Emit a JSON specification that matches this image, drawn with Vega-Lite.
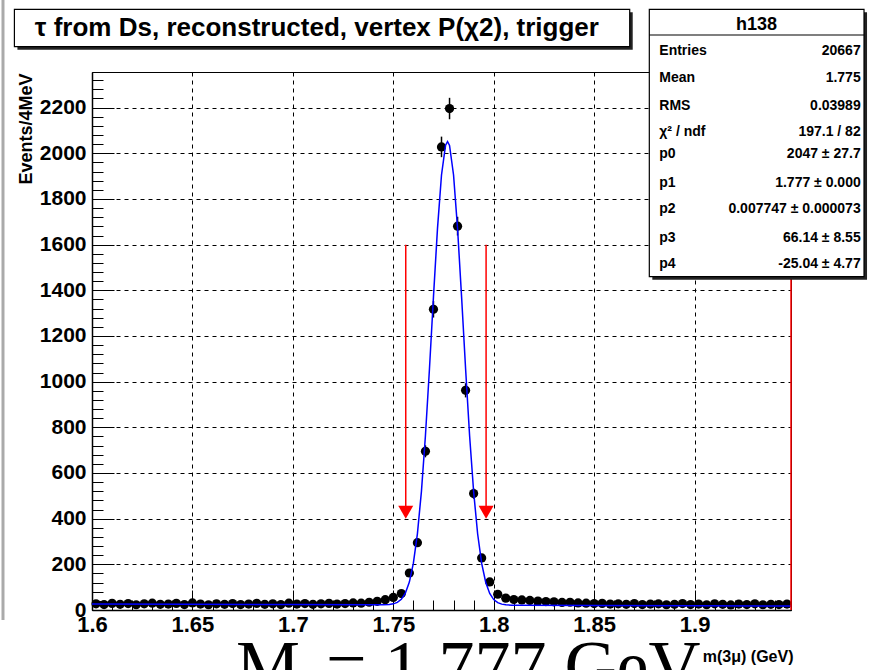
{
  "$schema": "https://vega.github.io/schema/vega-lite/v6.json",
  "width": 699,
  "height": 538,
  "autosize": {"type": "none"},
  "padding": {"left": 92, "top": 72, "right": 78, "bottom": 60},
  "background": "white",
  "config": {
    "view": {"stroke": "black", "strokeWidth": 1},
    "font": "Liberation Sans"
  },
  "datasets": {
    "hist": [
      {"m": 1.602, "n": 27, "e": 5.2}, {"m": 1.606, "n": 24, "e": 4.9}, {"m": 1.610, "n": 29, "e": 5.4}, {"m": 1.614, "n": 25, "e": 5.0},
      {"m": 1.618, "n": 28, "e": 5.3}, {"m": 1.622, "n": 23, "e": 4.8}, {"m": 1.626, "n": 27, "e": 5.2}, {"m": 1.630, "n": 30, "e": 5.5},
      {"m": 1.634, "n": 25, "e": 5.0}, {"m": 1.638, "n": 26, "e": 5.1}, {"m": 1.642, "n": 29, "e": 5.4}, {"m": 1.646, "n": 24, "e": 4.9},
      {"m": 1.650, "n": 31, "e": 5.6}, {"m": 1.654, "n": 26, "e": 5.1}, {"m": 1.658, "n": 23, "e": 4.8}, {"m": 1.662, "n": 27, "e": 5.2},
      {"m": 1.666, "n": 25, "e": 5.0}, {"m": 1.670, "n": 28, "e": 5.3}, {"m": 1.674, "n": 24, "e": 4.9}, {"m": 1.678, "n": 26, "e": 5.1},
      {"m": 1.682, "n": 29, "e": 5.4}, {"m": 1.686, "n": 25, "e": 5.0}, {"m": 1.690, "n": 27, "e": 5.2}, {"m": 1.694, "n": 24, "e": 4.9},
      {"m": 1.698, "n": 30, "e": 5.5}, {"m": 1.702, "n": 26, "e": 5.1}, {"m": 1.706, "n": 28, "e": 5.3}, {"m": 1.710, "n": 25, "e": 5.0},
      {"m": 1.714, "n": 27, "e": 5.2}, {"m": 1.718, "n": 29, "e": 5.4}, {"m": 1.722, "n": 26, "e": 5.1}, {"m": 1.726, "n": 28, "e": 5.3},
      {"m": 1.730, "n": 31, "e": 5.6}, {"m": 1.734, "n": 30, "e": 5.5}, {"m": 1.738, "n": 34, "e": 5.8}, {"m": 1.742, "n": 38, "e": 6.2},
      {"m": 1.746, "n": 45, "e": 6.7}, {"m": 1.750, "n": 55, "e": 7.4}, {"m": 1.754, "n": 72, "e": 8.5}, {"m": 1.758, "n": 162, "e": 12.7},
      {"m": 1.762, "n": 295, "e": 17.2}, {"m": 1.766, "n": 695, "e": 26.4}, {"m": 1.770, "n": 1317, "e": 36.3}, {"m": 1.774, "n": 2028, "e": 45.0},
      {"m": 1.778, "n": 2196, "e": 46.9}, {"m": 1.782, "n": 1681, "e": 41.0}, {"m": 1.786, "n": 962, "e": 31.0}, {"m": 1.790, "n": 510, "e": 22.6},
      {"m": 1.794, "n": 228, "e": 15.1}, {"m": 1.798, "n": 123, "e": 11.1}, {"m": 1.802, "n": 69, "e": 8.3}, {"m": 1.806, "n": 52, "e": 7.2},
      {"m": 1.810, "n": 46, "e": 6.8}, {"m": 1.814, "n": 44, "e": 6.6}, {"m": 1.818, "n": 42, "e": 6.5}, {"m": 1.822, "n": 39, "e": 6.2},
      {"m": 1.826, "n": 37, "e": 6.1}, {"m": 1.830, "n": 36, "e": 6.0}, {"m": 1.834, "n": 33, "e": 5.7}, {"m": 1.838, "n": 34, "e": 5.8},
      {"m": 1.842, "n": 31, "e": 5.6}, {"m": 1.846, "n": 30, "e": 5.5}, {"m": 1.850, "n": 28, "e": 5.3}, {"m": 1.854, "n": 29, "e": 5.4},
      {"m": 1.858, "n": 26, "e": 5.1}, {"m": 1.862, "n": 27, "e": 5.2}, {"m": 1.866, "n": 25, "e": 5.0}, {"m": 1.870, "n": 28, "e": 5.3},
      {"m": 1.874, "n": 24, "e": 4.9}, {"m": 1.878, "n": 26, "e": 5.1}, {"m": 1.882, "n": 27, "e": 5.2}, {"m": 1.886, "n": 23, "e": 4.8},
      {"m": 1.890, "n": 25, "e": 5.0}, {"m": 1.894, "n": 28, "e": 5.3}, {"m": 1.898, "n": 24, "e": 4.9}, {"m": 1.902, "n": 26, "e": 5.1},
      {"m": 1.906, "n": 23, "e": 4.8}, {"m": 1.910, "n": 27, "e": 5.2}, {"m": 1.914, "n": 25, "e": 5.0}, {"m": 1.918, "n": 22, "e": 4.7},
      {"m": 1.922, "n": 26, "e": 5.1}, {"m": 1.926, "n": 24, "e": 4.9}, {"m": 1.930, "n": 27, "e": 5.2}, {"m": 1.934, "n": 23, "e": 4.8},
      {"m": 1.938, "n": 25, "e": 5.0}, {"m": 1.942, "n": 24, "e": 4.9}, {"m": 1.946, "n": 26, "e": 5.1}
    ],
    "fit": [
      {"m": 1.600, "f": 26.1}, {"m": 1.650, "f": 24.8}, {"m": 1.700, "f": 23.6}, {"m": 1.740, "f": 22.6},
      {"m": 1.745, "f": 22.8}, {"m": 1.748, "f": 24.2}, {"m": 1.750, "f": 27.0}, {"m": 1.752, "f": 33.4},
      {"m": 1.754, "f": 46.9}, {"m": 1.756, "f": 73.7}, {"m": 1.758, "f": 122.3}, {"m": 1.760, "f": 205.0},
      {"m": 1.762, "f": 333.6}, {"m": 1.764, "f": 518.5}, {"m": 1.766, "f": 762.8}, {"m": 1.768, "f": 1055.7},
      {"m": 1.770, "f": 1371.4}, {"m": 1.772, "f": 1670.2}, {"m": 1.774, "f": 1905.0}, {"m": 1.776, "f": 2034.6},
      {"m": 1.777, "f": 2051.6}, {"m": 1.778, "f": 2034.5}, {"m": 1.780, "f": 1904.9}, {"m": 1.782, "f": 1669.9},
      {"m": 1.784, "f": 1371.1}, {"m": 1.786, "f": 1055.2}, {"m": 1.788, "f": 762.3}, {"m": 1.790, "f": 517.8},
      {"m": 1.792, "f": 332.9}, {"m": 1.794, "f": 204.1}, {"m": 1.796, "f": 121.4}, {"m": 1.798, "f": 72.6},
      {"m": 1.800, "f": 45.8}, {"m": 1.802, "f": 32.1}, {"m": 1.804, "f": 25.7}, {"m": 1.806, "f": 22.7},
      {"m": 1.809, "f": 21.2}, {"m": 1.814, "f": 20.7}, {"m": 1.850, "f": 19.8}, {"m": 1.900, "f": 18.6},
      {"m": 1.948, "f": 17.4}
    ],
    "arrows": [
      {"m": 1.7562, "top": 1600, "bot": 453, "tri": 428},
      {"m": 1.7962, "top": 1600, "bot": 453, "tri": 428}
    ],
    "edge": [{"m": 1.948, "lo": 0, "hi": 2356}],
    "frame": [{"m": 1.55569, "lo": -43.8, "hi": 2671.3}],
    "shadows": [
      {"x1": 1.56287, "x2": 1.86920, "y1": 2453.8, "y2": 2617.6},
      {"x1": 1.87896, "x2": 1.98585, "y1": 1446.6, "y2": 2617.6}
    ],
    "boxes": [
      {"x1": 1.56137, "x2": 1.86770, "y1": 2466.8, "y2": 2630.6},
      {"x1": 1.87746, "x2": 1.98435, "y1": 1459.6, "y2": 2630.6}
    ],
    "headline": [{"x1": 1.87746, "x2": 1.98435, "y": 2518}],
    "title": [{"m": 1.71197, "y": 2513.7, "t": "τ from Ds, reconstructed, vertex P(χ2), trigger"}],
    "header": [{"m": 1.93088, "y": 2540, "t": "h138"}],
    "statrows": [
      {"label": "Entries", "val": "20667", "y": 2430.5},
      {"label": "Mean", "val": "1.775", "y": 2313.6},
      {"label": "RMS", "val": "0.03989", "y": 2189.6},
      {"label": "χ² / ndf", "val": "197.1 / 82", "y": 2075.8},
      {"label": "p0", "val": "2047 ± 27.7", "y": 1978.0},
      {"label": "p1", "val": "1.777 ± 0.000", "y": 1853.7},
      {"label": "p2", "val": "0.007747 ± 0.000073", "y": 1737.0},
      {"label": "p3", "val": "66.14 ± 8.55", "y": 1613.0},
      {"label": "p4", "val": "-25.04 ± 4.77", "y": 1496.5}
    ],
    "bigtext": [
      {"m": 1.67169, "y": -350, "t": "M"},
      {"m": 1.71650, "y": -350, "t": "= 1.777 GeV"}
    ]
  },
  "resolve": {"axis": {"x": "independent", "y": "independent"}},
  "layer": [
    {
      "data": {"name": "fit"},
      "mark": {"type": "line", "opacity": 0},
      "encoding": {
        "x": {"field": "m", "type": "quantitative", "scale": {"domain": [1.6, 1.948], "nice": false, "zero": false},
          "axis": {"orient": "bottom", "values": [1.61,1.62,1.63,1.64,1.66,1.67,1.68,1.69,1.71,1.72,1.73,1.74,1.76,1.77,1.78,1.79,1.81,1.82,1.83,1.84,1.86,1.87,1.88,1.89,1.91,1.92,1.93,1.94],
            "labels": false, "grid": false, "domain": false, "title": null, "tickSize": -10, "tickColor": "black", "tickWidth": 1}},
        "y": {"field": "f", "type": "quantitative", "scale": {"domain": [0, 2356], "nice": false, "zero": false},
          "axis": {"orient": "left", "values": [40,80,120,160,240,280,320,360,440,480,520,560,640,680,720,760,840,880,920,960,1040,1080,1120,1160,1240,1280,1320,1360,1440,1480,1520,1560,1640,1680,1720,1760,1840,1880,1920,1960,2040,2080,2120,2160,2240,2280,2320],
            "labels": false, "grid": false, "domain": false, "title": null, "tickSize": -11, "tickColor": "black", "tickWidth": 1}}
      }
    },
    {
      "data": {"name": "hist"},
      "mark": {"type": "errorbar", "color": "black", "thickness": 1.5},
      "encoding": {
        "x": {"field": "m", "type": "quantitative", "scale": {"domain": [1.6, 1.948], "nice": false, "zero": false}, "axis": null},
        "y": {"field": "n", "type": "quantitative", "scale": {"domain": [0, 2356], "nice": false, "zero": false}, "axis": null},
        "yError": {"field": "e"}
      }
    },
    {
      "data": {"name": "hist"},
      "mark": {"type": "tick", "orient": "horizontal", "size": 8, "thickness": 1.5, "color": "black", "opacity": 1},
      "encoding": {
        "x": {"field": "m", "type": "quantitative", "scale": {"domain": [1.6, 1.948], "nice": false, "zero": false}, "axis": null},
        "y": {"field": "n", "type": "quantitative", "scale": {"domain": [0, 2356], "nice": false, "zero": false}, "axis": null}
      }
    },
    {
      "data": {"name": "hist"},
      "mark": {"type": "point", "filled": true, "shape": "circle", "size": 85, "color": "black", "opacity": 1},
      "encoding": {
        "x": {"field": "m", "type": "quantitative", "scale": {"domain": [1.6, 1.948], "nice": false, "zero": false},
          "axis": {"orient": "bottom", "values": [1.6, 1.65, 1.7, 1.75, 1.8, 1.85, 1.9], "format": ".3~g",
            "grid": true, "gridDash": [4, 4], "gridColor": "black", "gridOpacity": 1, "gridWidth": 1,
            "tickSize": -20, "tickColor": "black", "tickWidth": 1, "domainColor": "black", "domainWidth": 1.5,
            "labelFont": "Liberation Sans", "labelFontWeight": "bold", "labelFontSize": 22, "labelColor": "black",
            "labelPadding": 24, "labelFlush": false, "labelOverlap": false,
            "title": "m(3μ) (GeV)", "titleFont": "Liberation Sans", "titleFontSize": 16, "titleFontWeight": "bold", "titleColor": "black",
            "titleAnchor": "end", "titleAlign": "right", "titleBaseline": "alphabetic", "titleX": 701, "titleY": 51}},
        "y": {"field": "n", "type": "quantitative", "scale": {"domain": [0, 2356], "nice": false, "zero": false},
          "axis": {"orient": "left", "values": [0,200,400,600,800,1000,1200,1400,1600,1800,2000,2200], "format": "d",
            "grid": true, "gridDash": [4, 4], "gridColor": "black", "gridOpacity": 1, "gridWidth": 1,
            "tickSize": -22, "tickColor": "black", "tickWidth": 1, "domainColor": "black", "domainWidth": 1.5,
            "labelFont": "Liberation Sans", "labelFontWeight": "bold", "labelFontSize": 21, "labelColor": "black",
            "labelPadding": 28, "labelFlush": false, "labelOverlap": false,
            "title": "Events/4MeV", "titleFont": "Liberation Sans", "titleFontSize": 18, "titleFontWeight": "bold", "titleColor": "black",
            "titleAngle": -90, "titleAlign": "right", "titleBaseline": "middle", "titleX": -66, "titleY": 1}}
      }
    },
    {
      "data": {"name": "fit"},
      "mark": {"type": "line", "color": "#0000ff", "strokeWidth": 1.5},
      "encoding": {
        "x": {"field": "m", "type": "quantitative", "scale": {"domain": [1.6, 1.948], "nice": false, "zero": false}, "axis": null},
        "y": {"field": "f", "type": "quantitative", "scale": {"domain": [0, 2356], "nice": false, "zero": false}, "axis": null}
      }
    },
    {
      "data": {"name": "arrows"},
      "mark": {"type": "rule", "color": "#ff0000", "strokeWidth": 1.5},
      "encoding": {
        "x": {"field": "m", "type": "quantitative", "scale": {"domain": [1.6, 1.948], "nice": false, "zero": false}, "axis": null},
        "y": {"field": "top", "type": "quantitative", "scale": {"domain": [0, 2356], "nice": false, "zero": false}, "axis": null},
        "y2": {"field": "bot"}
      }
    },
    {
      "data": {"name": "arrows"},
      "mark": {"type": "point", "shape": "triangle-down", "filled": true, "size": 225, "color": "#ff0000", "opacity": 1},
      "encoding": {
        "x": {"field": "m", "type": "quantitative", "scale": {"domain": [1.6, 1.948], "nice": false, "zero": false}, "axis": null},
        "y": {"field": "tri", "type": "quantitative", "scale": {"domain": [0, 2356], "nice": false, "zero": false}, "axis": null}
      }
    },
    {
      "data": {"name": "edge"},
      "mark": {"type": "rule", "color": "#ff0000", "strokeWidth": 1.5},
      "encoding": {
        "x": {"field": "m", "type": "quantitative", "scale": {"domain": [1.6, 1.948], "nice": false, "zero": false}, "axis": null},
        "y": {"field": "lo", "type": "quantitative", "scale": {"domain": [0, 2356], "nice": false, "zero": false}, "axis": null},
        "y2": {"field": "hi"}
      }
    },
    {
      "data": {"name": "frame"},
      "mark": {"type": "rule", "color": "#aaaaaa", "strokeWidth": 3},
      "encoding": {
        "x": {"field": "m", "type": "quantitative", "scale": {"domain": [1.6, 1.948], "nice": false, "zero": false}, "axis": null},
        "y": {"field": "lo", "type": "quantitative", "scale": {"domain": [0, 2356], "nice": false, "zero": false}, "axis": null},
        "y2": {"field": "hi"}
      }
    },
    {
      "data": {"name": "shadows"},
      "mark": {"type": "rect", "color": "#222222"},
      "encoding": {
        "x": {"field": "x1", "type": "quantitative", "scale": {"domain": [1.6, 1.948], "nice": false, "zero": false}, "axis": null},
        "x2": {"field": "x2"},
        "y": {"field": "y1", "type": "quantitative", "scale": {"domain": [0, 2356], "nice": false, "zero": false}, "axis": null},
        "y2": {"field": "y2"}
      }
    },
    {
      "data": {"name": "boxes"},
      "mark": {"type": "rect", "fill": "white", "stroke": "black", "strokeWidth": 1.2},
      "encoding": {
        "x": {"field": "x1", "type": "quantitative", "scale": {"domain": [1.6, 1.948], "nice": false, "zero": false}, "axis": null},
        "x2": {"field": "x2"},
        "y": {"field": "y1", "type": "quantitative", "scale": {"domain": [0, 2356], "nice": false, "zero": false}, "axis": null},
        "y2": {"field": "y2"}
      }
    },
    {
      "data": {"name": "headline"},
      "mark": {"type": "rule", "color": "black", "strokeWidth": 1.2},
      "encoding": {
        "x": {"field": "x1", "type": "quantitative", "scale": {"domain": [1.6, 1.948], "nice": false, "zero": false}, "axis": null},
        "x2": {"field": "x2"},
        "y": {"field": "y", "type": "quantitative", "scale": {"domain": [0, 2356], "nice": false, "zero": false}, "axis": null}
      }
    },
    {
      "data": {"name": "title"},
      "mark": {"type": "text", "font": "Liberation Sans", "fontWeight": "bold", "fontSize": 26, "align": "center", "baseline": "alphabetic", "color": "black"},
      "encoding": {
        "x": {"field": "m", "type": "quantitative", "scale": {"domain": [1.6, 1.948], "nice": false, "zero": false}, "axis": null},
        "y": {"field": "y", "type": "quantitative", "scale": {"domain": [0, 2356], "nice": false, "zero": false}, "axis": null},
        "text": {"field": "t"}
      }
    },
    {
      "data": {"name": "header"},
      "mark": {"type": "text", "font": "Liberation Sans", "fontWeight": "bold", "fontSize": 18, "align": "center", "baseline": "alphabetic", "color": "black"},
      "encoding": {
        "x": {"field": "m", "type": "quantitative", "scale": {"domain": [1.6, 1.948], "nice": false, "zero": false}, "axis": null},
        "y": {"field": "y", "type": "quantitative", "scale": {"domain": [0, 2356], "nice": false, "zero": false}, "axis": null},
        "text": {"field": "t"}
      }
    },
    {
      "data": {"name": "statrows"},
      "mark": {"type": "text", "font": "Liberation Sans", "fontWeight": "bold", "fontSize": 14, "align": "left", "baseline": "alphabetic", "color": "black", "x": {"expr": "scale('x', 1.88244)"}},
      "encoding": {
        "y": {"field": "y", "type": "quantitative", "scale": {"domain": [0, 2356], "nice": false, "zero": false}, "axis": null},
        "text": {"field": "label"}
      }
    },
    {
      "data": {"name": "statrows"},
      "mark": {"type": "text", "font": "Liberation Sans", "fontWeight": "bold", "fontSize": 14, "align": "right", "baseline": "alphabetic", "color": "black", "x": {"expr": "scale('x', 1.98270)"}},
      "encoding": {
        "y": {"field": "y", "type": "quantitative", "scale": {"domain": [0, 2356], "nice": false, "zero": false}, "axis": null},
        "text": {"field": "val"}
      }
    },
    {
      "data": {"name": "bigtext"},
      "mark": {"type": "text", "font": "Liberation Serif", "fontSize": 72, "align": "left", "baseline": "alphabetic", "color": "black"},
      "encoding": {
        "x": {"field": "m", "type": "quantitative", "scale": {"domain": [1.6, 1.948], "nice": false, "zero": false}, "axis": null},
        "y": {"field": "y", "type": "quantitative", "scale": {"domain": [0, 2356], "nice": false, "zero": false}, "axis": null},
        "text": {"field": "t"}
      }
    }
  ]
}
